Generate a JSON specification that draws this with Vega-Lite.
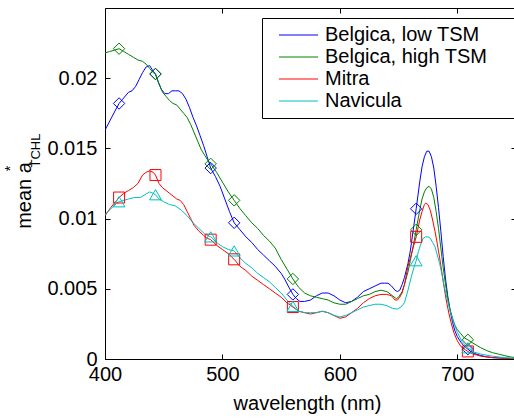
{
"$schema": "https://vega.github.io/schema/vega-lite/v6.json",
"width": 411, "height": 351,
"autosize": {"type": "none"},
"padding": {"left": 105, "top": 8, "right": 0, "bottom": 60},
"background": "white",
"config": {
  "font": "Liberation Sans",
  "view": {"stroke": "black", "strokeWidth": 1},
  "axis": {"domain": false, "grid": false, "ticks": true, "tickSize": -5, "tickColor": "black", "tickWidth": 1, "labelFlush": false, "labelColor": "black", "labelFont": "Liberation Sans", "labelFontSize": 20, "titleFont": "Liberation Sans", "titleFontWeight": "normal", "titleColor": "black"}
},
"datasets": {
"lines": [
{"s":"Belgica, low TSM","w":400,"v":0.0163},{"s":"Belgica, low TSM","w":405,"v":0.0171},{"s":"Belgica, low TSM","w":410,"v":0.0179},{"s":"Belgica, low TSM","w":412,"v":0.0182},{"s":"Belgica, low TSM","w":415,"v":0.0185},{"s":"Belgica, low TSM","w":420,"v":0.0190},{"s":"Belgica, low TSM","w":423,"v":0.0191},{"s":"Belgica, low TSM","w":426,"v":0.0194},{"s":"Belgica, low TSM","w":429,"v":0.0199},{"s":"Belgica, low TSM","w":432,"v":0.0204},{"s":"Belgica, low TSM","w":435,"v":0.0208},{"s":"Belgica, low TSM","w":438,"v":0.0209},{"s":"Belgica, low TSM","w":441,"v":0.0205},{"s":"Belgica, low TSM","w":443,"v":0.0203},{"s":"Belgica, low TSM","w":445,"v":0.0198},{"s":"Belgica, low TSM","w":448,"v":0.0192},{"s":"Belgica, low TSM","w":451,"v":0.0189},{"s":"Belgica, low TSM","w":454,"v":0.0189},{"s":"Belgica, low TSM","w":457,"v":0.0191},{"s":"Belgica, low TSM","w":460,"v":0.0191},{"s":"Belgica, low TSM","w":463,"v":0.0191},{"s":"Belgica, low TSM","w":466,"v":0.0189},{"s":"Belgica, low TSM","w":469,"v":0.0185},{"s":"Belgica, low TSM","w":472,"v":0.0179},{"s":"Belgica, low TSM","w":475,"v":0.0172},{"s":"Belgica, low TSM","w":478,"v":0.0166},{"s":"Belgica, low TSM","w":481,"v":0.0159},{"s":"Belgica, low TSM","w":484,"v":0.0152},{"s":"Belgica, low TSM","w":487,"v":0.0144},{"s":"Belgica, low TSM","w":490,"v":0.0136},{"s":"Belgica, low TSM","w":494,"v":0.0130},{"s":"Belgica, low TSM","w":498,"v":0.0123},{"s":"Belgica, low TSM","w":502,"v":0.0114},{"s":"Belgica, low TSM","w":506,"v":0.0105},{"s":"Belgica, low TSM","w":510,"v":0.0097},{"s":"Belgica, low TSM","w":515,"v":0.0092},{"s":"Belgica, low TSM","w":520,"v":0.0087},{"s":"Belgica, low TSM","w":525,"v":0.0083},{"s":"Belgica, low TSM","w":530,"v":0.0078},{"s":"Belgica, low TSM","w":535,"v":0.0074},{"s":"Belgica, low TSM","w":540,"v":0.0070},{"s":"Belgica, low TSM","w":545,"v":0.0066},{"s":"Belgica, low TSM","w":550,"v":0.0061},{"s":"Belgica, low TSM","w":553,"v":0.0057},{"s":"Belgica, low TSM","w":556,"v":0.0052},{"s":"Belgica, low TSM","w":560,"v":0.0046},{"s":"Belgica, low TSM","w":563,"v":0.0043},{"s":"Belgica, low TSM","w":566,"v":0.0041},{"s":"Belgica, low TSM","w":570,"v":0.0041},{"s":"Belgica, low TSM","w":575,"v":0.0042},{"s":"Belgica, low TSM","w":580,"v":0.0045},{"s":"Belgica, low TSM","w":585,"v":0.0047},{"s":"Belgica, low TSM","w":590,"v":0.0047},{"s":"Belgica, low TSM","w":595,"v":0.0045},{"s":"Belgica, low TSM","w":600,"v":0.0042},{"s":"Belgica, low TSM","w":605,"v":0.0040},{"s":"Belgica, low TSM","w":610,"v":0.0041},{"s":"Belgica, low TSM","w":615,"v":0.0044},{"s":"Belgica, low TSM","w":620,"v":0.0048},{"s":"Belgica, low TSM","w":625,"v":0.0050},{"s":"Belgica, low TSM","w":630,"v":0.0052},{"s":"Belgica, low TSM","w":635,"v":0.0054},{"s":"Belgica, low TSM","w":638,"v":0.0054},{"s":"Belgica, low TSM","w":641,"v":0.0054},{"s":"Belgica, low TSM","w":644,"v":0.0052},{"s":"Belgica, low TSM","w":647,"v":0.0049},{"s":"Belgica, low TSM","w":649,"v":0.0048},{"s":"Belgica, low TSM","w":651,"v":0.0049},{"s":"Belgica, low TSM","w":653,"v":0.0053},{"s":"Belgica, low TSM","w":655,"v":0.0058},{"s":"Belgica, low TSM","w":658,"v":0.0068},{"s":"Belgica, low TSM","w":660,"v":0.0077},{"s":"Belgica, low TSM","w":663,"v":0.0095},{"s":"Belgica, low TSM","w":665,"v":0.0107},{"s":"Belgica, low TSM","w":668,"v":0.0126},{"s":"Belgica, low TSM","w":670,"v":0.0137},{"s":"Belgica, low TSM","w":672,"v":0.0144},{"s":"Belgica, low TSM","w":674,"v":0.0148},{"s":"Belgica, low TSM","w":676,"v":0.0148},{"s":"Belgica, low TSM","w":678,"v":0.0144},{"s":"Belgica, low TSM","w":680,"v":0.0136},{"s":"Belgica, low TSM","w":682,"v":0.0123},{"s":"Belgica, low TSM","w":684,"v":0.0108},{"s":"Belgica, low TSM","w":686,"v":0.0091},{"s":"Belgica, low TSM","w":688,"v":0.0073},{"s":"Belgica, low TSM","w":690,"v":0.0057},{"s":"Belgica, low TSM","w":692,"v":0.0044},{"s":"Belgica, low TSM","w":694,"v":0.0034},{"s":"Belgica, low TSM","w":696,"v":0.0026},{"s":"Belgica, low TSM","w":698,"v":0.0020},{"s":"Belgica, low TSM","w":700,"v":0.0016},{"s":"Belgica, low TSM","w":703,"v":0.0012},{"s":"Belgica, low TSM","w":706,"v":0.0009},{"s":"Belgica, low TSM","w":709,"v":0.0007},{"s":"Belgica, low TSM","w":712,"v":0.0005},{"s":"Belgica, low TSM","w":716,"v":0.00035},{"s":"Belgica, low TSM","w":720,"v":0.00025},{"s":"Belgica, low TSM","w":725,"v":0.00015},{"s":"Belgica, low TSM","w":730,"v":0.0001},{"s":"Belgica, low TSM","w":740,"v":0.00005},{"s":"Belgica, low TSM","w":750,"v":0.00002},
{"s":"Belgica, high TSM","w":400,"v":0.0218},{"s":"Belgica, high TSM","w":404,"v":0.0219},{"s":"Belgica, high TSM","w":408,"v":0.0220},{"s":"Belgica, high TSM","w":412,"v":0.0221},{"s":"Belgica, high TSM","w":416,"v":0.0219},{"s":"Belgica, high TSM","w":420,"v":0.0217},{"s":"Belgica, high TSM","w":424,"v":0.0215},{"s":"Belgica, high TSM","w":428,"v":0.0213},{"s":"Belgica, high TSM","w":432,"v":0.0212},{"s":"Belgica, high TSM","w":435,"v":0.0210},{"s":"Belgica, high TSM","w":438,"v":0.0207},{"s":"Belgica, high TSM","w":441,"v":0.0204},{"s":"Belgica, high TSM","w":443,"v":0.0203},{"s":"Belgica, high TSM","w":446,"v":0.0196},{"s":"Belgica, high TSM","w":449,"v":0.0190},{"s":"Belgica, high TSM","w":452,"v":0.0187},{"s":"Belgica, high TSM","w":455,"v":0.0184},{"s":"Belgica, high TSM","w":458,"v":0.0182},{"s":"Belgica, high TSM","w":461,"v":0.0181},{"s":"Belgica, high TSM","w":464,"v":0.0178},{"s":"Belgica, high TSM","w":467,"v":0.0175},{"s":"Belgica, high TSM","w":470,"v":0.0172},{"s":"Belgica, high TSM","w":473,"v":0.0167},{"s":"Belgica, high TSM","w":476,"v":0.0161},{"s":"Belgica, high TSM","w":479,"v":0.0155},{"s":"Belgica, high TSM","w":482,"v":0.0149},{"s":"Belgica, high TSM","w":485,"v":0.0145},{"s":"Belgica, high TSM","w":488,"v":0.0141},{"s":"Belgica, high TSM","w":490,"v":0.0139},{"s":"Belgica, high TSM","w":495,"v":0.0133},{"s":"Belgica, high TSM","w":500,"v":0.0126},{"s":"Belgica, high TSM","w":505,"v":0.0119},{"s":"Belgica, high TSM","w":510,"v":0.0113},{"s":"Belgica, high TSM","w":515,"v":0.0107},{"s":"Belgica, high TSM","w":520,"v":0.0102},{"s":"Belgica, high TSM","w":525,"v":0.0097},{"s":"Belgica, high TSM","w":530,"v":0.0093},{"s":"Belgica, high TSM","w":535,"v":0.0088},{"s":"Belgica, high TSM","w":540,"v":0.0084},{"s":"Belgica, high TSM","w":545,"v":0.0079},{"s":"Belgica, high TSM","w":550,"v":0.0071},{"s":"Belgica, high TSM","w":555,"v":0.0064},{"s":"Belgica, high TSM","w":560,"v":0.0057},{"s":"Belgica, high TSM","w":565,"v":0.0051},{"s":"Belgica, high TSM","w":570,"v":0.0047},{"s":"Belgica, high TSM","w":575,"v":0.0045},{"s":"Belgica, high TSM","w":580,"v":0.0044},{"s":"Belgica, high TSM","w":585,"v":0.0043},{"s":"Belgica, high TSM","w":590,"v":0.0042},{"s":"Belgica, high TSM","w":595,"v":0.0040},{"s":"Belgica, high TSM","w":600,"v":0.0039},{"s":"Belgica, high TSM","w":605,"v":0.0039},{"s":"Belgica, high TSM","w":610,"v":0.0041},{"s":"Belgica, high TSM","w":615,"v":0.0043},{"s":"Belgica, high TSM","w":620,"v":0.0045},{"s":"Belgica, high TSM","w":625,"v":0.0046},{"s":"Belgica, high TSM","w":630,"v":0.0048},{"s":"Belgica, high TSM","w":635,"v":0.0049},{"s":"Belgica, high TSM","w":640,"v":0.0048},{"s":"Belgica, high TSM","w":645,"v":0.0045},{"s":"Belgica, high TSM","w":648,"v":0.0043},{"s":"Belgica, high TSM","w":650,"v":0.0044},{"s":"Belgica, high TSM","w":653,"v":0.0048},{"s":"Belgica, high TSM","w":655,"v":0.0053},{"s":"Belgica, high TSM","w":658,"v":0.0062},{"s":"Belgica, high TSM","w":660,"v":0.0070},{"s":"Belgica, high TSM","w":663,"v":0.0083},{"s":"Belgica, high TSM","w":665,"v":0.0092},{"s":"Belgica, high TSM","w":668,"v":0.0106},{"s":"Belgica, high TSM","w":670,"v":0.0114},{"s":"Belgica, high TSM","w":672,"v":0.0119},{"s":"Belgica, high TSM","w":674,"v":0.0122},{"s":"Belgica, high TSM","w":676,"v":0.0123},{"s":"Belgica, high TSM","w":678,"v":0.0121},{"s":"Belgica, high TSM","w":680,"v":0.0115},{"s":"Belgica, high TSM","w":682,"v":0.0105},{"s":"Belgica, high TSM","w":684,"v":0.0093},{"s":"Belgica, high TSM","w":686,"v":0.0079},{"s":"Belgica, high TSM","w":688,"v":0.0065},{"s":"Belgica, high TSM","w":690,"v":0.0053},{"s":"Belgica, high TSM","w":692,"v":0.0043},{"s":"Belgica, high TSM","w":694,"v":0.0035},{"s":"Belgica, high TSM","w":696,"v":0.0029},{"s":"Belgica, high TSM","w":698,"v":0.0024},{"s":"Belgica, high TSM","w":700,"v":0.0021},{"s":"Belgica, high TSM","w":703,"v":0.0018},{"s":"Belgica, high TSM","w":706,"v":0.0015},{"s":"Belgica, high TSM","w":709,"v":0.00137},{"s":"Belgica, high TSM","w":712,"v":0.0012},{"s":"Belgica, high TSM","w":716,"v":0.0010},{"s":"Belgica, high TSM","w":720,"v":0.0008},{"s":"Belgica, high TSM","w":725,"v":0.0006},{"s":"Belgica, high TSM","w":730,"v":0.00045},{"s":"Belgica, high TSM","w":735,"v":0.00035},{"s":"Belgica, high TSM","w":740,"v":0.00025},{"s":"Belgica, high TSM","w":745,"v":0.00015},{"s":"Belgica, high TSM","w":750,"v":0.0001},
{"s":"Mitra","w":400,"v":0.0102},{"s":"Mitra","w":405,"v":0.0108},{"s":"Mitra","w":410,"v":0.0113},{"s":"Mitra","w":412,"v":0.0115},{"s":"Mitra","w":416,"v":0.0118},{"s":"Mitra","w":420,"v":0.0120},{"s":"Mitra","w":424,"v":0.0122},{"s":"Mitra","w":428,"v":0.0125},{"s":"Mitra","w":432,"v":0.0131},{"s":"Mitra","w":435,"v":0.0133},{"s":"Mitra","w":438,"v":0.0134},{"s":"Mitra","w":441,"v":0.0133},{"s":"Mitra","w":443,"v":0.0131},{"s":"Mitra","w":446,"v":0.0125},{"s":"Mitra","w":449,"v":0.0122},{"s":"Mitra","w":452,"v":0.0120},{"s":"Mitra","w":455,"v":0.0118},{"s":"Mitra","w":458,"v":0.0116},{"s":"Mitra","w":461,"v":0.0114},{"s":"Mitra","w":464,"v":0.0113},{"s":"Mitra","w":467,"v":0.0110},{"s":"Mitra","w":470,"v":0.0105},{"s":"Mitra","w":473,"v":0.0100},{"s":"Mitra","w":476,"v":0.0095},{"s":"Mitra","w":480,"v":0.0091},{"s":"Mitra","w":484,"v":0.0088},{"s":"Mitra","w":487,"v":0.0086},{"s":"Mitra","w":490,"v":0.0085},{"s":"Mitra","w":495,"v":0.0081},{"s":"Mitra","w":500,"v":0.0078},{"s":"Mitra","w":505,"v":0.0075},{"s":"Mitra","w":510,"v":0.0071},{"s":"Mitra","w":515,"v":0.0066},{"s":"Mitra","w":520,"v":0.0063},{"s":"Mitra","w":525,"v":0.0059},{"s":"Mitra","w":530,"v":0.0056},{"s":"Mitra","w":535,"v":0.0053},{"s":"Mitra","w":540,"v":0.0050},{"s":"Mitra","w":545,"v":0.0047},{"s":"Mitra","w":550,"v":0.0044},{"s":"Mitra","w":555,"v":0.0040},{"s":"Mitra","w":560,"v":0.0037},{"s":"Mitra","w":565,"v":0.0034},{"s":"Mitra","w":570,"v":0.0033},{"s":"Mitra","w":575,"v":0.0032},{"s":"Mitra","w":580,"v":0.0033},{"s":"Mitra","w":585,"v":0.0034},{"s":"Mitra","w":590,"v":0.0033},{"s":"Mitra","w":595,"v":0.0031},{"s":"Mitra","w":600,"v":0.0029},{"s":"Mitra","w":605,"v":0.0030},{"s":"Mitra","w":610,"v":0.0033},{"s":"Mitra","w":615,"v":0.0036},{"s":"Mitra","w":620,"v":0.0040},{"s":"Mitra","w":625,"v":0.0043},{"s":"Mitra","w":630,"v":0.0045},{"s":"Mitra","w":635,"v":0.0046},{"s":"Mitra","w":640,"v":0.0046},{"s":"Mitra","w":644,"v":0.0045},{"s":"Mitra","w":647,"v":0.0042},{"s":"Mitra","w":649,"v":0.0042},{"s":"Mitra","w":651,"v":0.0044},{"s":"Mitra","w":653,"v":0.0047},{"s":"Mitra","w":655,"v":0.0053},{"s":"Mitra","w":658,"v":0.0066},{"s":"Mitra","w":660,"v":0.0072},{"s":"Mitra","w":663,"v":0.0081},{"s":"Mitra","w":665,"v":0.0087},{"s":"Mitra","w":668,"v":0.0099},{"s":"Mitra","w":670,"v":0.0105},{"s":"Mitra","w":672,"v":0.0110},{"s":"Mitra","w":673,"v":0.0111},{"s":"Mitra","w":675,"v":0.0110},{"s":"Mitra","w":677,"v":0.0106},{"s":"Mitra","w":679,"v":0.0099},{"s":"Mitra","w":681,"v":0.0091},{"s":"Mitra","w":683,"v":0.0082},{"s":"Mitra","w":685,"v":0.0072},{"s":"Mitra","w":687,"v":0.0061},{"s":"Mitra","w":689,"v":0.0050},{"s":"Mitra","w":691,"v":0.0040},{"s":"Mitra","w":693,"v":0.0032},{"s":"Mitra","w":695,"v":0.0025},{"s":"Mitra","w":697,"v":0.0019},{"s":"Mitra","w":700,"v":0.0013},{"s":"Mitra","w":703,"v":0.0009},{"s":"Mitra","w":706,"v":0.0007},{"s":"Mitra","w":709,"v":0.00054},{"s":"Mitra","w":712,"v":0.0004},{"s":"Mitra","w":716,"v":0.0003},{"s":"Mitra","w":720,"v":0.0002},{"s":"Mitra","w":730,"v":0.0001},{"s":"Mitra","w":740,"v":0.00005},{"s":"Mitra","w":750,"v":0.00002},
{"s":"Navicula","w":400,"v":0.0103},{"s":"Navicula","w":405,"v":0.0107},{"s":"Navicula","w":410,"v":0.0111},{"s":"Navicula","w":412,"v":0.0112},{"s":"Navicula","w":416,"v":0.0113},{"s":"Navicula","w":420,"v":0.0114},{"s":"Navicula","w":425,"v":0.0115},{"s":"Navicula","w":430,"v":0.0115},{"s":"Navicula","w":434,"v":0.0117},{"s":"Navicula","w":438,"v":0.0119},{"s":"Navicula","w":441,"v":0.0118},{"s":"Navicula","w":443,"v":0.0117},{"s":"Navicula","w":446,"v":0.0114},{"s":"Navicula","w":450,"v":0.0112},{"s":"Navicula","w":455,"v":0.0110},{"s":"Navicula","w":460,"v":0.0109},{"s":"Navicula","w":465,"v":0.0106},{"s":"Navicula","w":470,"v":0.0102},{"s":"Navicula","w":475,"v":0.0097},{"s":"Navicula","w":480,"v":0.0093},{"s":"Navicula","w":485,"v":0.0089},{"s":"Navicula","w":490,"v":0.0087},{"s":"Navicula","w":495,"v":0.0083},{"s":"Navicula","w":500,"v":0.0080},{"s":"Navicula","w":505,"v":0.0078},{"s":"Navicula","w":510,"v":0.0077},{"s":"Navicula","w":515,"v":0.0072},{"s":"Navicula","w":520,"v":0.0068},{"s":"Navicula","w":525,"v":0.0065},{"s":"Navicula","w":530,"v":0.0061},{"s":"Navicula","w":535,"v":0.0058},{"s":"Navicula","w":540,"v":0.0055},{"s":"Navicula","w":545,"v":0.0051},{"s":"Navicula","w":550,"v":0.0047},{"s":"Navicula","w":555,"v":0.0042},{"s":"Navicula","w":560,"v":0.00375},{"s":"Navicula","w":565,"v":0.0034},{"s":"Navicula","w":570,"v":0.0033},{"s":"Navicula","w":575,"v":0.0033},{"s":"Navicula","w":580,"v":0.0033},{"s":"Navicula","w":585,"v":0.0034},{"s":"Navicula","w":590,"v":0.0033},{"s":"Navicula","w":595,"v":0.0031},{"s":"Navicula","w":600,"v":0.0030},{"s":"Navicula","w":605,"v":0.0031},{"s":"Navicula","w":610,"v":0.0033},{"s":"Navicula","w":615,"v":0.0035},{"s":"Navicula","w":620,"v":0.0037},{"s":"Navicula","w":625,"v":0.0038},{"s":"Navicula","w":630,"v":0.0039},{"s":"Navicula","w":635,"v":0.0039},{"s":"Navicula","w":640,"v":0.0038},{"s":"Navicula","w":645,"v":0.0036},{"s":"Navicula","w":649,"v":0.00355},{"s":"Navicula","w":652,"v":0.0037},{"s":"Navicula","w":655,"v":0.0040},{"s":"Navicula","w":658,"v":0.0049},{"s":"Navicula","w":661,"v":0.0059},{"s":"Navicula","w":663,"v":0.0065},{"s":"Navicula","w":665,"v":0.0070},{"s":"Navicula","w":667,"v":0.0077},{"s":"Navicula","w":669,"v":0.0082},{"s":"Navicula","w":671,"v":0.0086},{"s":"Navicula","w":673,"v":0.0087},{"s":"Navicula","w":675,"v":0.0087},{"s":"Navicula","w":677,"v":0.0086},{"s":"Navicula","w":679,"v":0.0083},{"s":"Navicula","w":681,"v":0.0080},{"s":"Navicula","w":683,"v":0.0074},{"s":"Navicula","w":685,"v":0.0068},{"s":"Navicula","w":687,"v":0.0060},{"s":"Navicula","w":689,"v":0.0051},{"s":"Navicula","w":691,"v":0.0044},{"s":"Navicula","w":693,"v":0.0037},{"s":"Navicula","w":695,"v":0.0031},{"s":"Navicula","w":697,"v":0.0026},{"s":"Navicula","w":700,"v":0.0019},{"s":"Navicula","w":704,"v":0.00125},{"s":"Navicula","w":709,"v":0.0008},{"s":"Navicula","w":714,"v":0.0005},{"s":"Navicula","w":720,"v":0.00035},{"s":"Navicula","w":730,"v":0.0002},{"s":"Navicula","w":740,"v":0.0001},{"s":"Navicula","w":750,"v":0.00005}
],
"markers": [
{"s":"Belgica, low TSM","w":412,"v":0.0182},{"s":"Belgica, low TSM","w":443,"v":0.0203},{"s":"Belgica, low TSM","w":490,"v":0.0136},{"s":"Belgica, low TSM","w":510,"v":0.0097},{"s":"Belgica, low TSM","w":560,"v":0.0046},{"s":"Belgica, low TSM","w":665,"v":0.0107},{"s":"Belgica, low TSM","w":709,"v":0.0007},
{"s":"Belgica, high TSM","w":412,"v":0.0221},{"s":"Belgica, high TSM","w":443,"v":0.0203},{"s":"Belgica, high TSM","w":490,"v":0.0139},{"s":"Belgica, high TSM","w":510,"v":0.0113},{"s":"Belgica, high TSM","w":560,"v":0.0057},{"s":"Belgica, high TSM","w":665,"v":0.0092},{"s":"Belgica, high TSM","w":709,"v":0.00137},
{"s":"Mitra","w":412,"v":0.0115},{"s":"Mitra","w":443,"v":0.0131},{"s":"Mitra","w":490,"v":0.0085},{"s":"Mitra","w":510,"v":0.0071},{"s":"Mitra","w":560,"v":0.0037},{"s":"Mitra","w":665,"v":0.0087},{"s":"Mitra","w":709,"v":0.00054},
{"s":"Navicula","w":412,"v":0.0112},{"s":"Navicula","w":443,"v":0.0117},{"s":"Navicula","w":490,"v":0.0087},{"s":"Navicula","w":510,"v":0.0077},{"s":"Navicula","w":560,"v":0.00375},{"s":"Navicula","w":665,"v":0.0070},{"s":"Navicula","w":709,"v":0.0008}
]
},
"layer": [
{
 "data": {"name": "lines"},
 "mark": {"type": "line", "strokeWidth": 1, "clip": true},
 "encoding": {
  "x": {"field": "w", "type": "quantitative", "scale": {"domain": [400, 750], "nice": false, "zero": false},
        "axis": {"orient": "bottom", "values": [400, 500, 600, 700], "labelFlush": false, "labelPadding": 10, "title": "wavelength (nm)", "titleFontSize": 20, "titleX": 202, "titleY": 50, "titleBaseline": "alphabetic", "titleAlign": "center"}},
  "y": {"field": "v", "type": "quantitative", "scale": {"domain": [0, 0.025], "nice": false, "zero": false},
        "axis": {"orient": "left", "values": [0, 0.005, 0.01, 0.015, 0.02], "format": "~g", "labelFlush": false, "labelPadding": 13, "title": "mean a", "titleFontSize": 20, "titleAngle": 270, "titleX": -75, "titleY": 187, "titleAlign": "center", "titleBaseline": "alphabetic"}},
  "color": {"field": "s", "type": "nominal",
            "scale": {"domain": ["Belgica, low TSM", "Belgica, high TSM", "Mitra", "Navicula"], "range": ["#0000ff", "#008000", "#ff0000", "#00bfbf"]},
            "legend": {"orient": "none", "legendX": 157, "legendY": 10, "title": null, "padding": 7, "strokeColor": "black", "fillColor": "white", "cornerRadius": 0, "symbolType": "M0,0H13M76,0", "symbolSize": 36, "symbolStrokeWidth": 1, "symbolFillColor": "transparent", "labelFontSize": 20, "labelFont": "Liberation Sans", "labelColor": "black", "labelOffset": 36, "labelLimit": 400, "rowPadding": 2}}
 }
},
{
 "data": {"name": "markers"},
 "transform": [{"filter": "datum.s == 'Belgica, low TSM' || datum.s == 'Belgica, high TSM'"}],
 "mark": {"type": "point", "shape": "diamond", "filled": false, "size": 130, "strokeWidth": 1, "opacity": 1},
 "encoding": {
  "x": {"field": "w", "type": "quantitative", "scale": {"domain": [400, 750], "nice": false, "zero": false},
        "axis": {"orient": "top", "values": [400, 500, 600, 700], "labels": false, "title": "*", "titleFontSize": 14, "titleAngle": 270, "titleX": -91, "titleY": 160, "titleAlign": "center", "titleBaseline": "alphabetic"}},
  "y": {"field": "v", "type": "quantitative", "scale": {"domain": [0, 0.025], "nice": false, "zero": false},
        "axis": {"orient": "right", "values": [0, 0.005, 0.01, 0.015, 0.02], "labels": false, "title": "TCHL", "titleFontSize": 13, "titleAngle": 270, "titleX": -477, "titleY": 142, "titleAlign": "center", "titleBaseline": "alphabetic"}},
  "color": {"field": "s", "type": "nominal", "legend": null}
 }
},
{
 "data": {"name": "markers"},
 "transform": [{"filter": "datum.s == 'Mitra'"}],
 "mark": {"type": "point", "shape": "square", "filled": false, "size": 121, "strokeWidth": 1, "opacity": 1},
 "encoding": {
  "x": {"field": "w", "type": "quantitative", "scale": {"domain": [400, 750], "nice": false, "zero": false}, "axis": null},
  "y": {"field": "v", "type": "quantitative", "scale": {"domain": [0, 0.025], "nice": false, "zero": false}, "axis": null},
  "color": {"field": "s", "type": "nominal", "legend": null}
 }
},
{
 "data": {"name": "markers"},
 "transform": [{"filter": "datum.s == 'Navicula'"}],
 "mark": {"type": "point", "shape": "triangle-up", "filled": false, "size": 140, "strokeWidth": 1, "opacity": 1},
 "encoding": {
  "x": {"field": "w", "type": "quantitative", "scale": {"domain": [400, 750], "nice": false, "zero": false}, "axis": null},
  "y": {"field": "v", "type": "quantitative", "scale": {"domain": [0, 0.025], "nice": false, "zero": false}, "axis": null},
  "color": {"field": "s", "type": "nominal", "legend": null}
 }
}
],
"resolve": {"axis": {"x": "independent", "y": "independent"}}
}
